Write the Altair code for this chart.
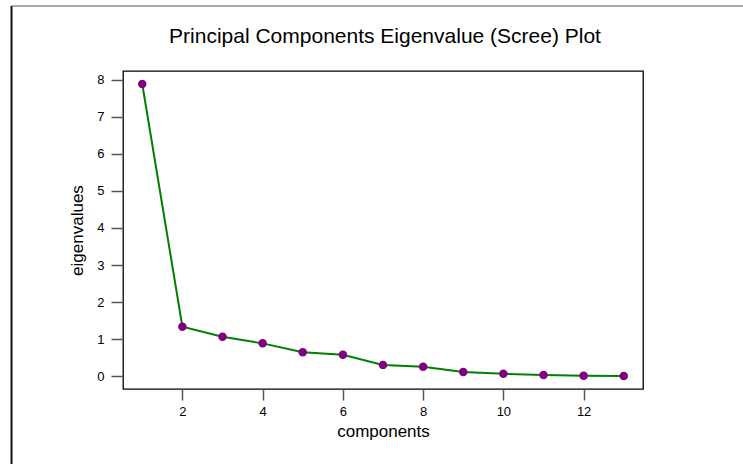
import altair as alt
import pandas as pd

components = [1, 2, 3, 4, 5, 6, 7, 8, 9, 10, 11, 12, 13]
eigenvalues = [7.88, 1.34, 1.07, 0.89, 0.65, 0.58, 0.31, 0.26, 0.12, 0.07, 0.04, 0.02, 0.01]
x_ticks = [2, 4, 6, 8, 10, 12]
y_ticks = [0, 1, 2, 3, 4, 5, 6, 7, 8]
title_text = ["Principal Components Eigenvalue (Scree) Plot"]

df = pd.DataFrame({"components": components, "eigenvalues": eigenvalues})
tdf = pd.DataFrame({"t": title_text})

FONT = "Liberation Sans"
W, H = 520, 318

x = alt.X("components:Q", title="components",
          scale=alt.Scale(domain=[0.52, 13.48], nice=False, zero=False),
          axis=alt.Axis(values=x_ticks, grid=False, domain=False, tickSize=11,
                        tickColor="#555", tickWidth=1.5, labelPadding=5,
                        labelFontSize=13, labelColor="#000", labelFont=FONT,
                        titleFont=FONT, titleFontSize=17, titleFontWeight="normal",
                        titleColor="#000", titlePadding=5))
y = alt.Y("eigenvalues:Q", title="eigenvalues",
          scale=alt.Scale(domain=[-0.34, 8.23], nice=False, zero=False),
          axis=alt.Axis(values=y_ticks, grid=False, domain=False, tickSize=12,
                        tickColor="#555", tickWidth=1.5, labelPadding=7,
                        labelFontSize=13, labelColor="#000", labelFont=FONT,
                        titleFont=FONT, titleFontSize=17, titleFontWeight="normal",
                        titleColor="#000", titlePadding=10))

base = alt.Chart(df)
line = base.mark_line(color="#008000", strokeWidth=2).encode(x=x, y=y)
pts = base.mark_circle(color="#800080", opacity=1, size=72).encode(x=x, y=y)

frame_left = alt.Chart(tdf).mark_rule(color="#111", strokeWidth=2).encode(
    x=alt.value(-111.5), y=alt.value(-65), y2=alt.value(393))
frame_top = alt.Chart(tdf).mark_rule(color="#555", strokeWidth=1.2).encode(
    x=alt.value(-111.5), x2=alt.value(620), y=alt.value(-65))

title = alt.Chart(tdf).mark_text(font=FONT, fontSize=21, color="#000",
                                 align="center", baseline="alphabetic").encode(
    text="t:N", x=alt.value(W / 2 + 2), y=alt.value(-28.3))

chart = alt.layer(line, pts, frame_left, frame_top, title).properties(
    width=W, height=H,
    background="white",
    autosize=alt.AutoSizeParams(type="none"),
    padding={"left": 123, "top": 71, "right": 100, "bottom": 75},
).configure_view(stroke="#000", strokeWidth=1.3)

chart.save("out.html", embed_options={"renderer": "svg", "actions": False})
